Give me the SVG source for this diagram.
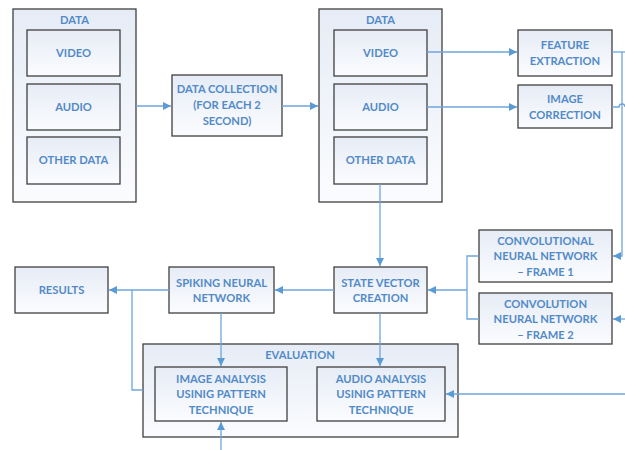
<svg xmlns="http://www.w3.org/2000/svg" width="625" height="450" viewBox="0 0 625 450">
  <defs>
    <linearGradient id="boxFill" x1="0" y1="0" x2="0" y2="1">
      <stop offset="0" stop-color="#e6ecf6"/>
      <stop offset="1" stop-color="#fbfcfe"/>
    </linearGradient>
    <marker id="arrow" viewBox="0 0 10 10" refX="10" refY="5" markerWidth="8" markerHeight="8" markerUnits="userSpaceOnUse" orient="auto">
      <path d="M0,0 L10,5 L0,10 z" fill="#5b9bd5"/>
    </marker>
    <style>
      .box { fill: url(#boxFill); stroke: #3f3f3f; stroke-width: 1.3; }
      .lbl { font-family: Lato, "Liberation Sans", sans-serif; font-weight: bold; font-size: 11.2px; fill: #528ac8; text-anchor: middle; }
      .wire { fill: none; stroke: #6fa6dc; stroke-width: 1.3; }
      .arr { marker-end: url(#arrow); }
    </style>
  </defs>

  <rect width="625" height="450" fill="#ffffff"/>

  <!-- left data source -->
  <g id="data-source">
    <rect class="box" x="13" y="9" width="123" height="193"/>
    <text class="lbl" x="74.5" y="24">DATA</text>
  </g>
  <g id="video-1">
    <rect class="box" x="27" y="30" width="93" height="46"/>
    <text class="lbl" x="73.5" y="57">VIDEO</text>
  </g>
  <g id="audio-1">
    <rect class="box" x="27" y="84" width="93" height="46"/>
    <text class="lbl" x="73.5" y="111">AUDIO</text>
  </g>
  <g id="other-1">
    <rect class="box" x="27" y="137" width="93" height="47"/>
    <text class="lbl" x="73.5" y="164">OTHER DATA</text>
  </g>

  <g id="data-collection">
    <rect class="box" x="172" y="75" width="110" height="61"/>
    <text class="lbl" x="227" y="93">DATA COLLECTION</text>
    <text class="lbl" x="227" y="109">(FOR EACH 2</text>
    <text class="lbl" x="227" y="125">SECOND)</text>
  </g>

  <!-- collected data -->
  <g id="data-collected">
    <rect class="box" x="319" y="9" width="123" height="193"/>
    <text class="lbl" x="380.5" y="24">DATA</text>
  </g>
  <g id="video-2">
    <rect class="box" x="334" y="30" width="93" height="46"/>
    <text class="lbl" x="380.5" y="57">VIDEO</text>
  </g>
  <g id="audio-2">
    <rect class="box" x="334" y="84" width="93" height="46"/>
    <text class="lbl" x="380.5" y="111">AUDIO</text>
  </g>
  <g id="other-2">
    <rect class="box" x="334" y="137" width="93" height="47"/>
    <text class="lbl" x="380.5" y="164">OTHER DATA</text>
  </g>

  <g id="feature-extraction">
    <rect class="box" x="518" y="30" width="94" height="46"/>
    <text class="lbl" x="565" y="49">FEATURE</text>
    <text class="lbl" x="565" y="65">EXTRACTION</text>
  </g>
  <g id="image-correction">
    <rect class="box" x="518" y="85" width="94" height="43"/>
    <text class="lbl" x="565" y="103">IMAGE</text>
    <text class="lbl" x="565" y="119">CORRECTION</text>
  </g>

  <g id="cnn-frame-1">
    <rect class="box" x="479" y="230" width="133" height="52"/>
    <text class="lbl" x="545.5" y="245">CONVOLUTIONAL</text>
    <text class="lbl" x="545.5" y="260">NEURAL NETWORK</text>
    <text class="lbl" x="545.5" y="276">– FRAME 1</text>
  </g>
  <g id="cnn-frame-2">
    <rect class="box" x="479" y="293" width="133" height="51"/>
    <text class="lbl" x="545.5" y="308">CONVOLUTION</text>
    <text class="lbl" x="545.5" y="323">NEURAL NETWORK</text>
    <text class="lbl" x="545.5" y="339">– FRAME 2</text>
  </g>

  <g id="state-vector">
    <rect class="box" x="334" y="267" width="93" height="46"/>
    <text class="lbl" x="380.5" y="287">STATE VECTOR</text>
    <text class="lbl" x="380.5" y="302">CREATION</text>
  </g>

  <g id="spiking-nn">
    <rect class="box" x="169" y="267" width="105" height="46"/>
    <text class="lbl" x="221.5" y="287">SPIKING NEURAL</text>
    <text class="lbl" x="221.5" y="302">NETWORK</text>
  </g>

  <g id="results">
    <rect class="box" x="15" y="267" width="93" height="46"/>
    <text class="lbl" x="61.5" y="294">RESULTS</text>
  </g>

  <g id="evaluation">
    <rect class="box" x="143" y="344" width="315" height="93"/>
    <text class="lbl" x="300" y="359">EVALUATION</text>
  </g>
  <g id="image-analysis">
    <rect class="box" x="155" y="367" width="132" height="54"/>
    <text class="lbl" x="221" y="383">IMAGE ANALYSIS</text>
    <text class="lbl" x="221" y="398">USINIG PATTERN</text>
    <text class="lbl" x="221" y="414">TECHNIQUE</text>
  </g>
  <g id="audio-analysis">
    <rect class="box" x="317" y="367" width="128" height="54"/>
    <text class="lbl" x="381" y="383">AUDIO ANALYSIS</text>
    <text class="lbl" x="381" y="398">USINIG PATTERN</text>
    <text class="lbl" x="381" y="414">TECHNIQUE</text>
  </g>

  <!-- connectors, drawn over the container boxes -->
  <g id="connectors">
    <path class="wire arr" d="M136,106 H171"/>
    <path class="wire arr" d="M282,106 H318"/>
    <path class="wire arr" d="M427,52 H517"/>
    <path class="wire arr" d="M427,107 H517"/>
    <path class="wire" d="M612,52 H625"/>
    <path class="wire" d="M612,107 H619 A3,3 0 0 1 625,107"/>
    <path class="wire arr" d="M622,52 V256 H613"/>
    <path class="wire arr" d="M625,319 H613"/>
    <path class="wire arr" d="M380,184 V266"/>
    <path class="wire" d="M479,256 H467 V319 H479"/>
    <path class="wire arr" d="M467,290 H428"/>
    <path class="wire arr" d="M334,290 H275"/>
    <path class="wire arr" d="M169,290 H109"/>
    <path class="wire" d="M132,290 V390 H143"/>
    <path class="wire arr" d="M221,313 V366"/>
    <path class="wire arr" d="M380,313 V366"/>
    <path class="wire arr" d="M221,450 V422"/>
    <path class="wire arr" d="M625,394 H446"/>
  </g>
</svg>
